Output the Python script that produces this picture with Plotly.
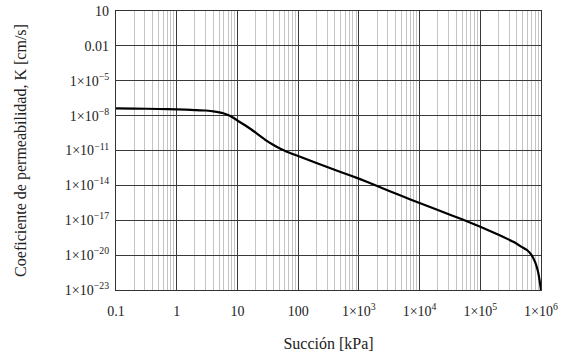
import plotly.graph_objects as go

# Curva de conductividad hidráulica: succión [kPa] vs. K [cm/s]
suction_kpa = [0.1, 0.2, 0.5, 1, 2, 3, 4, 5, 6, 7, 8, 10, 15, 20, 30, 40, 50,
               65, 100, 200, 500, 1e3, 2e3, 5e3, 1e4, 2e4, 5e4, 1e5, 2e5,
               3.5e5, 5e5, 6e5, 7e5, 8e5, 8.5e5, 9e5, 9.5e5, 1e6]
k_cm_s = [4.27e-8, 4.07e-8, 3.72e-8, 3.47e-8, 3.02e-8, 2.75e-8, 2.29e-8,
          1.91e-8, 1.51e-8, 1.12e-8, 7.9e-9, 3.8e-9, 1.0e-9, 3.4e-10,
          7.1e-11, 2.8e-11, 1.48e-11, 7.9e-12, 3.4e-12, 8.3e-13, 1.41e-13,
          3.8e-14, 8.9e-15, 1.26e-15, 3.0e-16, 7.6e-17, 1.2e-17, 2.8e-18,
          5.6e-19, 1.4e-19, 4.5e-20, 2.5e-20, 1.0e-20, 2.5e-21, 1.0e-21,
          3.2e-22, 6.3e-23, 1.0e-23]

x_tickvals = [0.1, 1, 10, 100, 1e3, 1e4, 1e5, 1e6]
x_ticktext = ["0.1", "1", "10", "100", "1×10<sup>3</sup>", "1×10<sup>4</sup>",
              "1×10<sup>5</sup>", "1×10<sup>6</sup>"]
y_tickvals = [10, 0.01, 1e-5, 1e-8, 1e-11, 1e-14, 1e-17, 1e-20, 1e-23]
y_ticktext = ["10", "0.01", "1×10<sup>−5</sup>", "1×10<sup>−8</sup>",
              "1×10<sup>−11</sup>", "1×10<sup>−14</sup>", "1×10<sup>−17</sup>",
              "1×10<sup>−20</sup>", "1×10<sup>−23</sup>"]

# minor vertical grid: 2..9 within each decade
x_minor = [k * 10.0 ** d for d in range(-1, 6) for k in range(2, 10)]

font = "Liberation Serif"

fig = go.Figure()
fig.add_trace(go.Scatter(
    x=suction_kpa, y=k_cm_s, mode="lines",
    line=dict(color="black", width=2.2, shape="spline", smoothing=0.35),
    hoverinfo="skip", showlegend=False,
))

fig.update_layout(
    width=561, height=356,
    margin=dict(l=116, r=20, t=11, b=66),
    paper_bgcolor="white", plot_bgcolor="white",
    font=dict(family=font, size=14, color="#222"),
    xaxis=dict(
        type="log", range=[-1, 6], automargin=False,
        tickmode="array", tickvals=x_tickvals, ticktext=x_ticktext,
        ticks="", ticklabelstandoff=8,
        tickfont=dict(family=font, size=14),
        showgrid=True, gridcolor="#3a3a3a", gridwidth=1.2,
        minor=dict(tickmode="array", tickvals=x_minor, showgrid=True,
                   gridcolor="#c4c4c4", gridwidth=1, ticks=""),
        showline=True, linecolor="#333", linewidth=1.2, mirror=True,
        zeroline=False,
        title=dict(text="Succión [kPa]", font=dict(family=font, size=16),
                   standoff=19),
    ),
    yaxis=dict(
        type="log", range=[-23, 1], automargin=False,
        tickmode="array", tickvals=y_tickvals, ticktext=y_ticktext,
        ticks="", ticklabelstandoff=3,
        tickfont=dict(family=font, size=14),
        showgrid=True, gridcolor="#3a3a3a", gridwidth=1.2,
        showline=True, linecolor="#333", linewidth=1.2, mirror=True,
        zeroline=False,
        title=dict(text="Coeficiente de permeabilidad, K [cm/s]",
                   font=dict(family=font, size=16), standoff=34),
    ),
)

fig.write_html("out.html")
